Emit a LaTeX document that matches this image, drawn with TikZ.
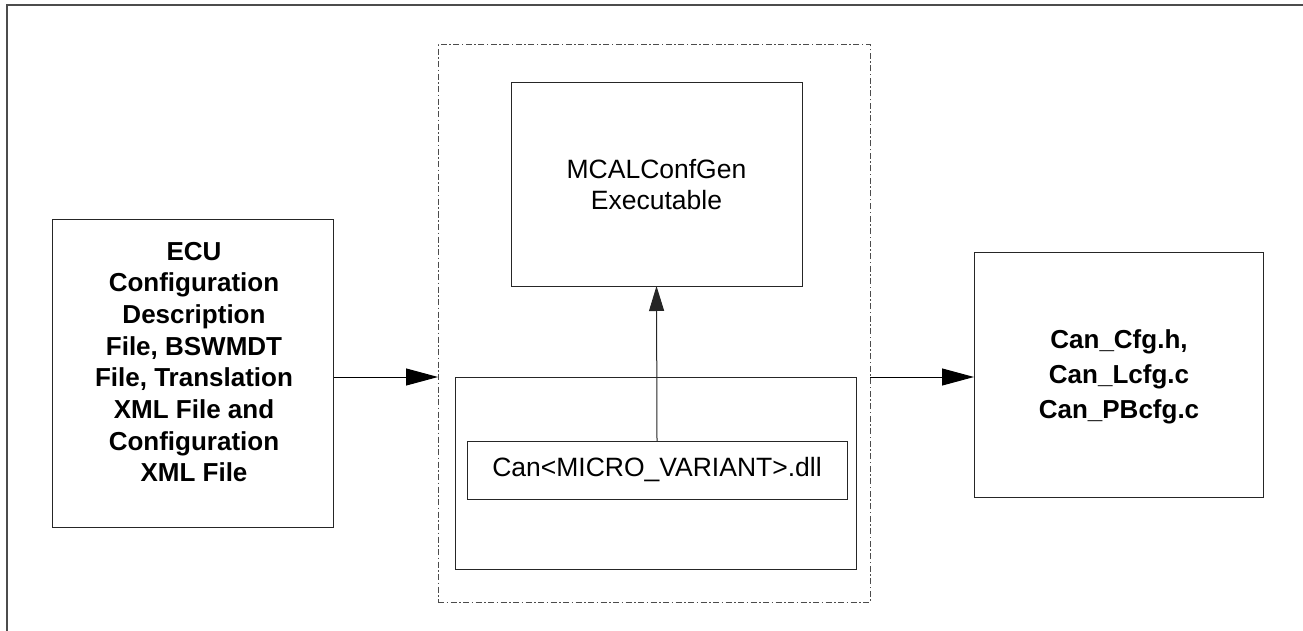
\documentclass[tikz,border=0pt]{standalone}
\usepackage{fontspec}
\setmainfont{Liberation Sans}
\usetikzlibrary{arrows.meta}
\begin{document}
\begin{tikzpicture}[x=1pt,y=-1pt,
  box/.style={draw=black!85,line width=1pt,inner sep=0pt,outer sep=0pt,fill=none},
  dashbox/.style={draw=black!70,line width=1pt,inner sep=0pt,outer sep=0pt,
     dash pattern=on 6pt off 2.5pt on 1.5pt off 2.5pt},
  harr/.style={line width=1pt,draw=black,-{Triangle[length=32pt,width=17pt]}},
  varr/.style={line width=1pt,draw=black!85,-{Triangle[length=25pt,width=15pt]}},
  boldtxt/.style={font=\fontsize{26}{31.7}\selectfont\bfseries,align=center,inner sep=0pt},
  regtxt/.style={font=\fontsize{26.5}{31}\selectfont,align=center,inner sep=0pt}]
\useasboundingbox (0,0) rectangle (1303,631);
\fill[white] (0,0) rectangle (1303,631);
% outer frame (top and left edges)
\draw[line width=2pt,black!70] (6.5,631) -- (6.5,5.5) -- (1303,5.5);
% boxes
\node[dashbox,minimum width=432pt,minimum height=557pt] (dash) at (654,323.5) {};
\node[box,minimum width=291pt,minimum height=203pt] (mcal) at (656.5,184.5) {};
\node[box,minimum width=401pt,minimum height=192pt] (lower) at (655.5,473) {};
\node[box,minimum width=380pt,minimum height=58pt] (dll) at (657,470) {};
\node[box,minimum width=281.3pt,minimum height=308pt] (ecu) at (193.3,373) {};
\node[box,minimum width=289pt,minimum height=245pt] (out) at (1118.5,374.5) {};
% texts
\node[regtxt] (mcaltxt) at (656.5,185) {MCALConfGen\\Executable};
\node[regtxt] (dlltxt) at (dll.center) {Can<MICRO\_VARIANT>.dll};
\node[boldtxt] (ecutxt) at (194,362) {ECU\\Configuration\\Description\\File, BSWMDT\\File, Translation\\XML File and\\Configuration\\XML File};
\node[boldtxt,font=\fontsize{26}{35}\selectfont\bfseries] (outtxt) at (1119,377) {Can\_Cfg.h,\\Can\_Lcfg.c\\Can\_PBcfg.c};
% connectors
\draw[harr] (ecu.east |- lower.north) -- (dash.west |- lower.north);
\draw[harr] (dash.east |- lower.north) -- (out.west |- lower.north);
\draw[varr] (dll.north) -- (mcal.south);
\end{tikzpicture}
\end{document}
